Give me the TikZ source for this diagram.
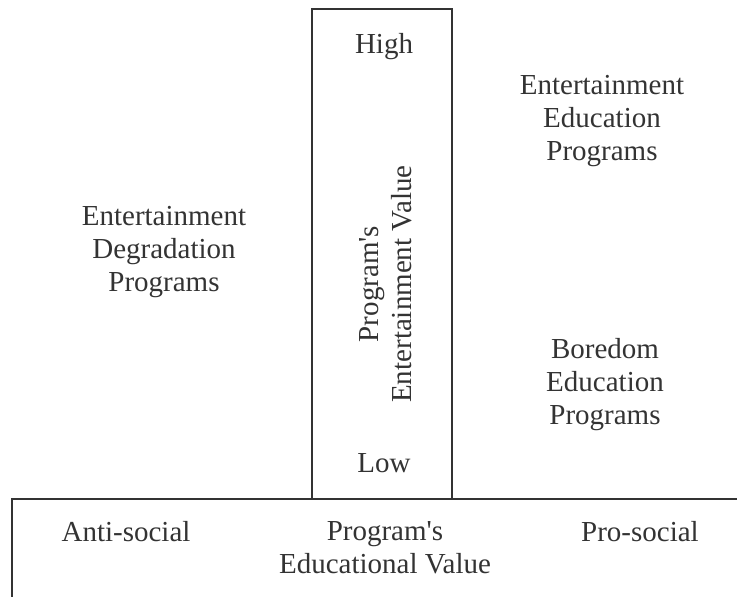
\documentclass[tikz,border=0pt]{standalone}
\usepackage{fontspec}
\setmainfont{Liberation Serif}
\begin{document}
\begin{tikzpicture}[x=1pt,y=-1pt,
  lbl/.style={font=\fontsize{29}{33}\selectfont, text=black!80, align=center, inner sep=0pt},
  frame/.style={draw=black!80, line width=1.4pt}]
\useasboundingbox (0,0) rectangle (737,597);
\node[frame, minimum width=140, minimum height=490, inner sep=0pt] (vbox) at (382,254) {};
\coordinate (hl) at (12,499);
\coordinate (hr) at (737,499);
\coordinate (hb) at (12,597);
\draw[frame] (hb) -- (hl) -- (hr);
\node[lbl] (high) at (384,47) {High};
\node[lbl] (low) at (384,463) {Low};
\node[lbl, rotate=90] (ev) at (386,284) {Program\textquotesingle s\\Entertainment Value};
\node[lbl] (eep) at (602,121) {Entertainment\\Education\\Programs};
\node[lbl] (edp) at (164,252) {Entertainment\\Degradation\\Programs};
\node[lbl] (bep) at (605,385) {Boredom\\Education\\Programs};
\node[lbl] (anti) at (126,532) {Anti-social};
\node[lbl] (pro) at (640,532) {Pro-social};
\node[lbl] (edv) at (385,548) {Program\textquotesingle s\\Educational Value};
\end{tikzpicture}
\end{document}
